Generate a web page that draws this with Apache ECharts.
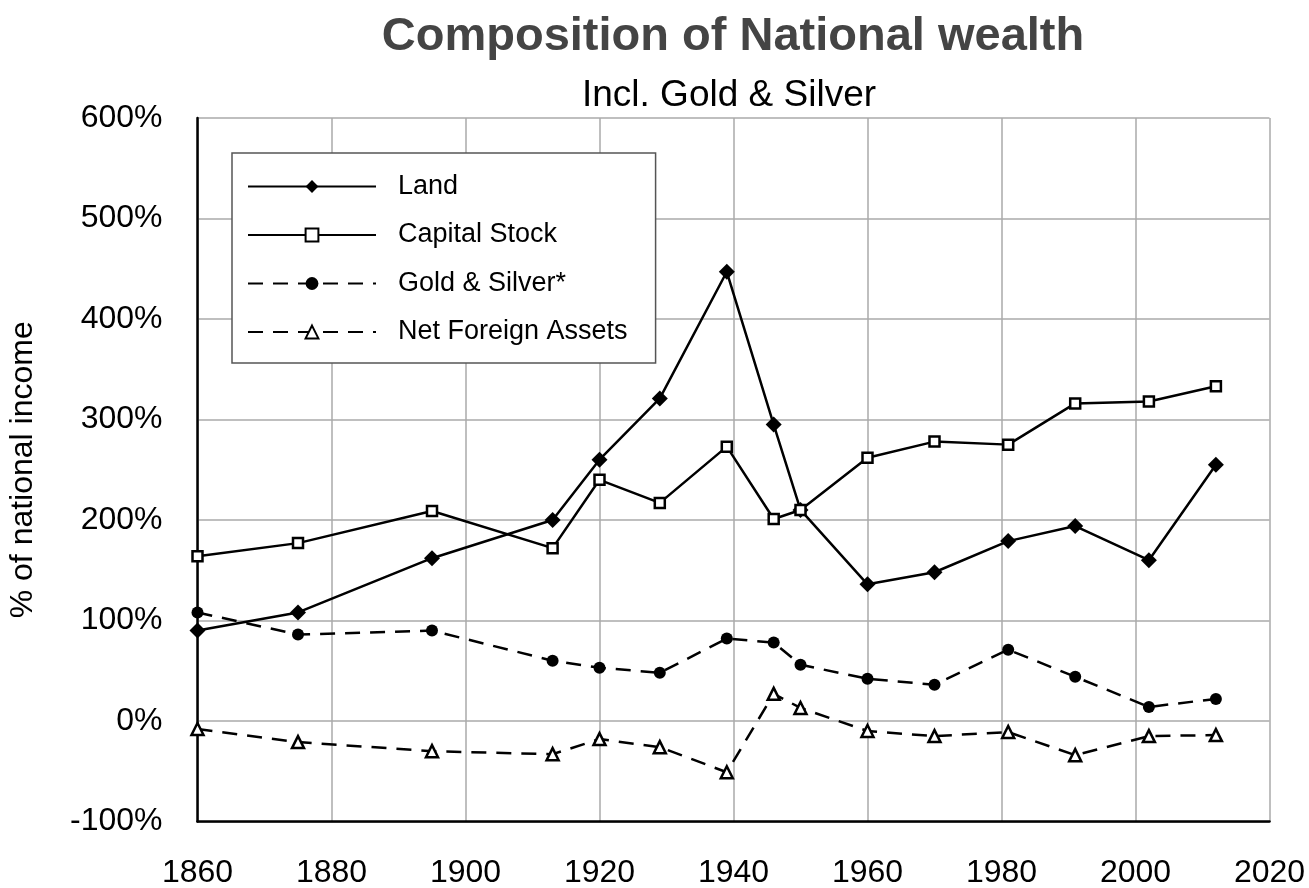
<!DOCTYPE html>
<html>
<head>
<meta charset="utf-8">
<script src="https://cdn.jsdelivr.net/npm/echarts@6/dist/echarts.min.js"></script>
<style>
  html, body { margin: 0; padding: 0; background: #fff; }
  #chart { width: 1309px; height: 888px; }
</style>
</head>
<body>
<div id="chart"></div>
<script>
// years of each observation
var years = [1860, 1875, 1895, 1913, 1920, 1929, 1939, 1946, 1950, 1960, 1970, 1981, 1991, 2002, 2012];

// % of national income
var land         = [90, 108, 162, 200, 260, 321, 447, 295, 210, 136, 148, 179, 194, 160, 255];
var capitalStock = [164, 177, 209, 172, 240, 217, 273, 201, 210, 262, 278, 275, 316, 318, 333];
var goldSilver   = [108, 86, 90, 60, 53, 48, 82, 78, 56, 42, 36, 71, 44, 14, 22];
var netForeign   = [-8, -21, -30, -33, -18, -26, -51, 27, 13, -10, -15, -11, -34, -15, -14];

var seriesNames = ['Land', 'Capital Stock', 'Gold & Silver*', 'Net Foreign Assets'];

function pairs(vals) {
    return years.map(function (y, i) { return [y, vals[i]]; });
}

var FONT = 'Liberation Sans, Arial, Helvetica, sans-serif';
var dash = [15, 10];

var chart = echarts.init(document.getElementById('chart'));
chart.setOption({
    animation: false,
    backgroundColor: '#fff',
    title: [
        {
            text: 'Composition of National wealth',
            left: 733,
            top: 14,
            padding: 0,
            textAlign: 'center',
            textStyle: { fontFamily: FONT, fontSize: 47, fontWeight: 'bold', color: '#444' }
        },
        {
            text: 'Incl. Gold & Silver',
            left: 729,
            top: 77,
            padding: 0,
            textAlign: 'center',
            textStyle: { fontFamily: FONT, fontSize: 37, fontWeight: 'normal', color: '#000' }
        }
    ],
    grid: { left: 197.5, right: 39.5, top: 118, bottom: 66.5, outerBoundsMode: 'none', containLabel: false },
    legend: {
        orient: 'vertical',
        left: 232,
        top: 153,
        data: seriesNames,
        itemWidth: 128,
        itemHeight: 16,
        itemGap: 21.5,
        padding: [20, 28, 17.5, 15],
        backgroundColor: '#fff',
        borderColor: '#555',
        borderWidth: 1.5,
        textStyle: { fontFamily: FONT, fontSize: 27, color: '#000', padding: [0, 0, 0, 17] }
    },
    xAxis: {
        type: 'value',
        min: 1860,
        max: 2020,
        interval: 20,
        axisLine: { onZero: false, lineStyle: { color: '#000', width: 2.5 } },
        axisTick: { show: false },
        axisLabel: {
            fontFamily: FONT, fontSize: 32, color: '#000', margin: 36,
            formatter: function (v) { return String(v); }
        },
        splitLine: { show: true, lineStyle: { color: '#aaa', width: 1.5 } }
    },
    yAxis: {
        type: 'value',
        min: -100,
        max: 600,
        interval: 100,
        name: '% of national income',
        nameLocation: 'middle',
        nameGap: 158,
        nameTextStyle: { fontFamily: FONT, fontSize: 32, color: '#000' },
        axisLine: { show: true, lineStyle: { color: '#000', width: 2.5 } },
        axisTick: { show: false },
        axisLabel: { fontFamily: FONT, fontSize: 32, color: '#000', margin: 35, formatter: '{value}%' },
        splitLine: { show: true, lineStyle: { color: '#aaa', width: 1.5 } }
    },
    series: [
        {
            name: seriesNames[0],
            type: 'line',
            data: pairs(land),
            symbol: 'diamond',
            symbolSize: 16,
            lineStyle: { color: '#000', width: 2.5 },
            itemStyle: { color: '#000' },
            z: 4
        },
        {
            name: seriesNames[1],
            type: 'line',
            data: pairs(capitalStock),
            symbol: 'rect',
            symbolSize: 10,
            lineStyle: { color: '#000', width: 2.5 },
            itemStyle: { color: '#fff', borderColor: '#000', borderWidth: 2.5 },
            z: 5
        },
        {
            name: seriesNames[2],
            type: 'line',
            data: pairs(goldSilver),
            symbol: 'circle',
            symbolSize: 12,
            lineStyle: { color: '#000', width: 2.5, type: dash },
            itemStyle: { color: '#000' },
            z: 3
        },
        {
            name: seriesNames[3],
            type: 'line',
            data: pairs(netForeign),
            symbol: 'triangle',
            symbolSize: 12,
            lineStyle: { color: '#000', width: 2.5, type: dash },
            itemStyle: { color: '#fff', borderColor: '#000', borderWidth: 2.5 },
            z: 3
        }
    ]
});
</script>
</body>
</html>
